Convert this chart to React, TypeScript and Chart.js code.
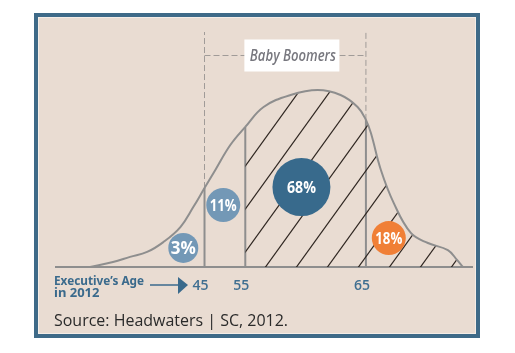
import React, { useEffect, useRef } from 'react';
import { Chart, registerables } from 'chart.js';
Chart.register(...registerables);

// Illustrative age-distribution curve (x = position along age axis, y = relative density)
const curveX = [8.2, 13.7, 17.8, 21.9, 25.8, 29.9, 33.0, 35.7, 38.3, 41.9, 45.5, 49.9, 56.4, 62.9, 68.4, 72.5, 74.5, 75.7, 78.1, 81.2, 85.3, 89.4, 94.2, 96.4, 97.8];
const curveY = [0, 2.1, 4.3, 6.4, 10.6, 17.0, 25.5, 33.6, 41.3, 51.9, 59.6, 68.1, 73.2, 75.3, 73.2, 68.1, 62.6, 57.0, 41.3, 27.2, 14.5, 10.2, 7.2, 3.0, 0];

// Age markers
const markerPos = [35.7, 45.5, 74.5];
const markerLabels = ['45', '55', '65'];

// Share bubbles
const shareLabels = ['3%', '11%', '68%', '18%'];
const shareX = [30.6, 40.2, 59.0, 80.0];
const shareY = [8.1, 26.4, 34.0, 12.3];

// Baby boomers bracket
const bracketLabel = 'Baby Boomers';
const bracketLevel = 90;
const bracketLabelPos = 56.7;

const axisTitle = ["Executive\u2019s Age", 'in 2012'];
const sourceText = 'Source: Headwaters | SC, 2012.';

const curveAt = (p: number) => curveY[curveX.indexOf(p)];

export default function App() {
  const ref = useRef<HTMLCanvasElement>(null);
  useEffect(() => {
    const canvas = ref.current!;
    const ctx = canvas.getContext('2d')!;
    const tile = document.createElement('canvas');
    const tw = 31, th = 43;
    tile.width = tw; tile.height = th;
    const t = tile.getContext('2d')!;
    t.strokeStyle = '#2e2520';
    t.lineWidth = 1.2;
    for (const off of [-tw, 0, tw]) {
      t.beginPath();
      t.moveTo(off - tw, 2 * th);
      t.lineTo(off + 2 * tw, -th);
      t.stroke();
    }
    const pattern = ctx.createPattern(tile, 'repeat')!;
    pattern.setTransform(new DOMMatrix([1, 0, 0, 1, -7, 0]));

    const labelsPlugin = {
      id: 'labels',
      afterDatasetsDraw(chart: any) {
        const c = chart.ctx;
        const xs = chart.scales.x, ys = chart.scales.y;
        c.save();
        // bracket label box
        const bx = xs.getPixelForValue(bracketLabelPos);
        const by = ys.getPixelForValue(bracketLevel);
        c.fillStyle = '#ffffff';
        c.fillRect(bx - 47.5, by - 16, 95, 32);
        c.fillStyle = '#77777e';
        c.font = 'italic 600 16px "Open Sans"';
        c.textAlign = 'center';
        c.textBaseline = 'middle';
        c.fillText(bracketLabel, bx + 1, by + 1, 86);
        // bubble labels
        const meta = chart.getDatasetMeta(chart.data.datasets.findIndex((d: any) => d.label === 'shares'));
        const widths = [26, 27, 29, 27];
        const sizes = [17, 16, 16, 16];
        meta.data.forEach((el: any, i: number) => {
          c.fillStyle = '#ffffff';
          c.font = `bold ${sizes[i]}px "Open Sans"`;
          c.fillText(shareLabels[i], el.x, el.y + 1, widths[i]);
        });
        // axis title + arrow
        const bottom = chart.chartArea.bottom;
        const left = chart.chartArea.left;
        c.fillStyle = '#3a6a8c';
        c.textAlign = 'left';
        c.font = 'bold 13px "Noto Sans"';
        c.fillText(axisTitle[0], left - 2, bottom + 14, 90);
        c.fillText(axisTitle[1], left - 2, bottom + 26, 46);
        c.strokeStyle = '#3a6a8c';
        c.lineWidth = 1.5;
        c.beginPath();
        c.moveTo(left + 94, bottom + 18);
        c.lineTo(left + 124, bottom + 18);
        c.stroke();
        c.beginPath();
        c.moveTo(left + 122, bottom + 10);
        c.lineTo(left + 132, bottom + 18);
        c.lineTo(left + 122, bottom + 27);
        c.closePath();
        c.fill();
        // source
        c.fillStyle = '#2a2a2a';
        c.font = '16px "Open Sans"';
        c.fillText(sourceText, left - 2, bottom + 54, 234);
        c.restore();
      },
    };

    const gray = '#8e8e8e';
    const dashGray = '#a09b98';
    const chart = new Chart(canvas, {
      type: 'line',
      data: {
        datasets: [
          {
            label: 'shares',
            type: 'scatter',
            data: shareX.map((x, i) => ({ x, y: shareY[i] })),
            pointRadius: [15, 17, 29, 17],
            pointHoverRadius: [15, 17, 29, 17],
            pointBackgroundColor: ['#7398b6', '#7398b6', '#386a8c', '#f07f36'],
            pointBorderWidth: 0,
            order: 0,
          } as any,
          {
            label: 'curve',
            data: curveX.map((x, i) => ({ x, y: curveY[i] })),
            borderColor: gray,
            borderWidth: 2,
            pointRadius: 0,
            tension: 0.4,
            fill: 'origin',
            backgroundColor: 'rgba(0,0,0,0)',
            segment: {
              backgroundColor: (s: any) => (s.p0.parsed.x >= markerPos[1] - 0.01 ? pattern : 'rgba(0,0,0,0)'),
            },
            order: 2,
          } as any,
          ...markerPos.map((p) => ({
            label: 'marker',
            data: [{ x: p, y: 0 }, { x: p, y: curveAt(p) }],
            borderColor: gray,
            borderWidth: 2,
            pointRadius: 0,
            fill: false,
            order: 3,
          })),
          ...[markerPos[0], markerPos[2]].map((p) => ({
            label: 'bracket',
            data: [{ x: p, y: curveAt(p) }, { x: p, y: 100 }],
            borderColor: dashGray,
            borderWidth: 1,
            borderDash: [6, 3],
            pointRadius: 0,
            fill: false,
            order: 4,
          })),
          {
            label: 'bracketH',
            data: [{ x: markerPos[0], y: bracketLevel }, { x: markerPos[2], y: bracketLevel }],
            borderColor: dashGray,
            borderWidth: 1,
            borderDash: [6, 3],
            pointRadius: 0,
            fill: false,
            order: 4,
          } as any,
        ],
      },
      options: {
        animation: false,
        responsive: false,
        devicePixelRatio: 1,
        layout: { padding: { left: 56, right: 43, top: 32, bottom: 46 } },
        plugins: { legend: { display: false }, tooltip: { enabled: false } },
        events: [],
        scales: {
          x: {
            type: 'linear',
            min: 0,
            max: 100,
            grid: { display: false, drawTicks: false },
            border: { display: true, color: gray, width: 2 },
            afterBuildTicks: (s: any) => {
              s.ticks = markerPos.map((v) => ({ value: v }));
            },
            afterFit: (s: any) => {
              s.height = 40;
            },
            ticks: {
              autoSkip: false,
              maxRotation: 0,
              padding: 11,
              labelOffset: -4,
              color: '#3f6f91',
              font: { family: '"Open Sans"', size: 14, weight: '600' },
              callback: (v: any) => markerLabels[markerPos.indexOf(Number(v))] ?? '',
            },
          },
          y: { type: 'linear', display: false, min: 0, max: 100 },
        },
      } as any,
      plugins: [labelsPlugin],
    });
    return () => chart.destroy();
  }, []);

  return (
    <div style={{ position: 'fixed', left: 0, top: 0, width: 515, height: 353, background: '#ffffff' }}>
      <div
        style={{
          position: 'absolute',
          left: 34,
          top: 13,
          width: 446,
          height: 325,
          boxSizing: 'border-box',
          border: '4px solid #3e6a88',
          background: '#e9dcd2',
          boxShadow: 'inset 0 0 0 1px #f4ede7',
        }}
      />
      <canvas ref={ref} width={515} height={353} style={{ position: 'absolute', left: 0, top: 0 }} />
    </div>
  );
}
